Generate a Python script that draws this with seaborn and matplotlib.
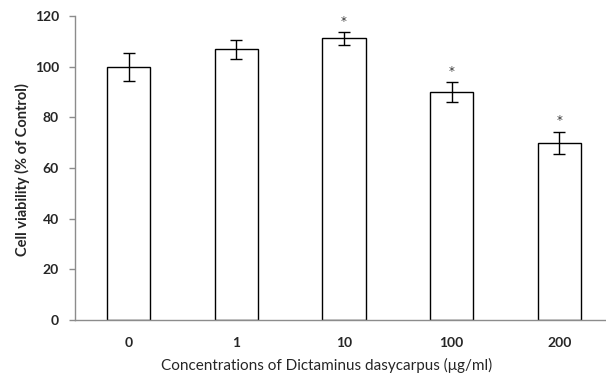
import matplotlib.pyplot as plt
import pandas as pd
import seaborn as sns

# values
concentrations = ["0", "1", "10", "100", "200"]
viability = [100.0, 106.8, 111.2, 90.0, 70.0]
errors = [5.5, 3.7, 2.5, 4.0, 4.4]
significant = [False, False, True, True, True]

df = pd.DataFrame({"conc": concentrations, "viability": viability})

sns.set_theme(style="white")
plt.rcParams["font.family"] = ["Lato", "DejaVu Sans"]

fig = plt.figure(figsize=(6.06, 3.83), dpi=100)
# axis frame: x from px 75 to ~613 (runs past the right edge), y from 16 to 320
ax = fig.add_axes([75 / 606, 63 / 383, 538 / 606, 304 / 383])

sns.barplot(data=df, x="conc", y="viability", ax=ax, color="white",
            edgecolor="black", linewidth=1.0, width=0.4, errorbar=None)
ax.errorbar(range(len(concentrations)), viability, yerr=errors, fmt="none",
            ecolor="black", elinewidth=1.0, capsize=4, capthick=1.0)

for i, (v, e, s) in enumerate(zip(viability, errors, significant)):
    if s:
        ax.text(i, v + e + 4.2, "*", ha="center", va="center", fontsize=8.5,
                family="DejaVu Sans", color="#333333")

ax.set_xlim(-0.5, 4.5)
ax.set_ylim(0, 120)
ax.set_yticks(range(0, 121, 20))
for side in ["top", "right"]:
    ax.spines[side].set_visible(False)
for side in ["left", "bottom"]:
    ax.spines[side].set_color("#8c8c8c")
    ax.spines[side].set_linewidth(1.0)

ax.tick_params(axis="y", which="major", left=True, length=4.5, width=1.0,
               color="#8c8c8c", labelsize=10, pad=7)
ax.tick_params(axis="x", bottom=False, labelsize=10, pad=6)
for lab in ax.get_xticklabels() + ax.get_yticklabels():
    lab.set_fontweight("bold")

ax.set_xlabel("Concentrations of Dictaminus dasycarpus (\u03bcg/ml)", fontsize=11)
ax.xaxis.label.set_va("center")
ax.xaxis.set_label_coords(0.467, (320 - 365) / 304)
ax.set_ylabel("Cell viability (% of Control)", fontsize=10.5, fontweight="bold")
ax.yaxis.label.set_va("center")
ax.yaxis.set_label_coords((22 - 75) / 538, (320 - 170) / 304)

fig.savefig("out.png", dpi=100)
